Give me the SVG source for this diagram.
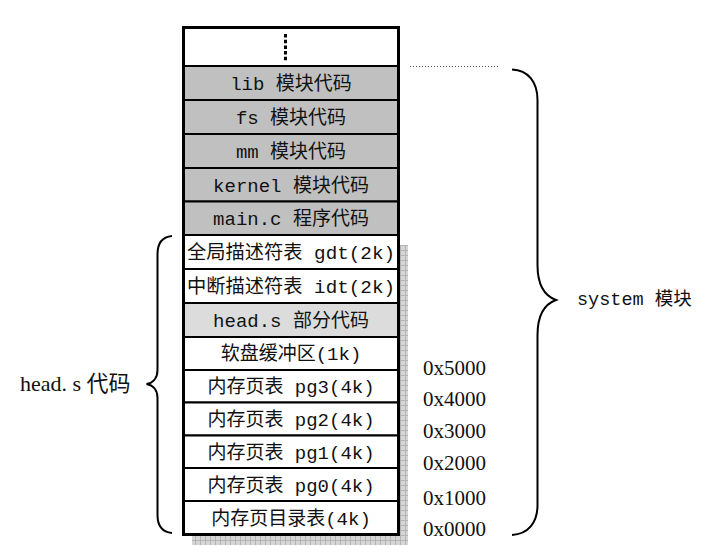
<svg xmlns="http://www.w3.org/2000/svg" width="711" height="555" viewBox="0 0 711 555">
<style>
.row{stroke:#000;stroke-width:2}
.w{fill:#fff}
.g{fill:#c0c0c0}
.lg{fill:#dcdcdc}
.t{font-family:"Liberation Mono","Noto Sans CJK SC",monospace;font-size:19px;fill:#111;text-anchor:middle}
.sys{font-family:"Liberation Mono","Noto Sans CJK SC",monospace;font-size:18.5px;fill:#111}
.s{font-family:"Liberation Serif","Noto Sans CJK SC",serif;font-size:21px;fill:#111}
.brace{fill:none;stroke:#000;stroke-width:2}
</style>
<defs>
<pattern id="grid" width="5" height="5" patternUnits="userSpaceOnUse">
<rect width="5" height="5" fill="#d6d6d6"/>
<path d="M0 0.5H5M0.5 0V5" stroke="#b4b4b4" stroke-width="1"/>
</pattern>
</defs>
<rect width="711" height="555" fill="#fff"/>
<g id="shadow">
<rect x="400" y="245" width="8" height="300" fill="url(#grid)"/>
<rect x="192" y="536" width="216" height="9" fill="url(#grid)"/>
</g>
<g id="memory">
<g id="row-top"><rect class="row w" x="183.5" y="27.5" width="215" height="38.5"/>
<line x1="285.5" y1="34" x2="285.5" y2="62" stroke="#000" stroke-width="3" stroke-dasharray="3.5 2.2"/></g>
<g id="row-lib"><rect class="row g" x="183.5" y="66" width="215" height="34"/><text class="t" x="291" y="89.5">lib 模块代码</text></g>
<g id="row-fs"><rect class="row g" x="183.5" y="100" width="215" height="34"/><text class="t" x="291" y="123.5">fs 模块代码</text></g>
<g id="row-mm"><rect class="row g" x="183.5" y="134" width="215" height="34"/><text class="t" x="291" y="157.5">mm 模块代码</text></g>
<g id="row-kernel"><rect class="row g" x="183.5" y="168" width="215" height="33.5"/><text class="t" x="291" y="191.5">kernel 模块代码</text></g>
<g id="row-main"><rect class="row g" x="183.5" y="201.5" width="215" height="33.5"/><text class="t" x="291" y="224.5">main.c 程序代码</text></g>
<g id="row-gdt"><rect class="row w" x="183.5" y="235" width="215" height="34"/><text class="t" x="291" y="258.5" textLength="208" lengthAdjust="spacingAndGlyphs">全局描述符表 gdt(2k)</text></g>
<g id="row-idt"><rect class="row w" x="183.5" y="269" width="215" height="34"/><text class="t" x="291" y="292.5" textLength="208" lengthAdjust="spacingAndGlyphs">中断描述符表 idt(2k)</text></g>
<g id="row-head"><rect class="row lg" x="183.5" y="303" width="215" height="34"/><text class="t" x="291" y="326.5">head.s 部分代码</text></g>
<g id="row-floppy"><rect class="row w" x="183.5" y="337" width="215" height="33"/><text class="t" x="291" y="359.5">软盘缓冲区(1k)</text></g>
<g id="row-pg3"><rect class="row w" x="183.5" y="370" width="215" height="32.5"/><text class="t" x="291" y="392.5">内存页表 pg3(4k)</text></g>
<g id="row-pg2"><rect class="row w" x="183.5" y="402.5" width="215" height="33"/><text class="t" x="291" y="425.5">内存页表 pg2(4k)</text></g>
<g id="row-pg1"><rect class="row w" x="183.5" y="435.5" width="215" height="32.5"/><text class="t" x="291" y="458.5">内存页表 pg1(4k)</text></g>
<g id="row-pg0"><rect class="row w" x="183.5" y="468" width="215" height="33"/><text class="t" x="291" y="491.5">内存页表 pg0(4k)</text></g>
<g id="row-pgdir"><rect class="row w" x="183.5" y="501" width="215" height="33.5"/><text class="t" x="291" y="524.5">内存页目录表(4k)</text></g>
<rect x="183.5" y="27.5" width="215" height="507" fill="none" stroke="#000" stroke-width="3"/>
</g>
<g id="connectors">
<line x1="410" y1="66.5" x2="499" y2="66.5" stroke="#555" stroke-width="1" stroke-dasharray="1 2"/>
<path class="brace" d="M172 236 C162 237 157.5 243 157.5 254 V370 C157.5 378 153 383 146.5 384 C153 385 157.5 390 157.5 398 V515 C157.5 526 162 532 172 533"/>
<path class="brace" d="M512 69.5 C528 70 537.5 82 537.5 100 V265 C537.5 285 545 296 556 300 C545 304 537.5 315 537.5 335 V505 C537.5 523 528 534 512 535"/>
</g>
<g id="labels">
<text class="s" x="20" y="391" style="font-size:22px">head. s 代码</text>
<text class="sys" x="577" y="305">system 模块</text>
<text class="s" x="423" y="375">0x5000</text>
<text class="s" x="423" y="406">0x4000</text>
<text class="s" x="423" y="438">0x3000</text>
<text class="s" x="423" y="470">0x2000</text>
<text class="s" x="423" y="505">0x1000</text>
<text class="s" x="423" y="536">0x0000</text>
</g>
</svg>
